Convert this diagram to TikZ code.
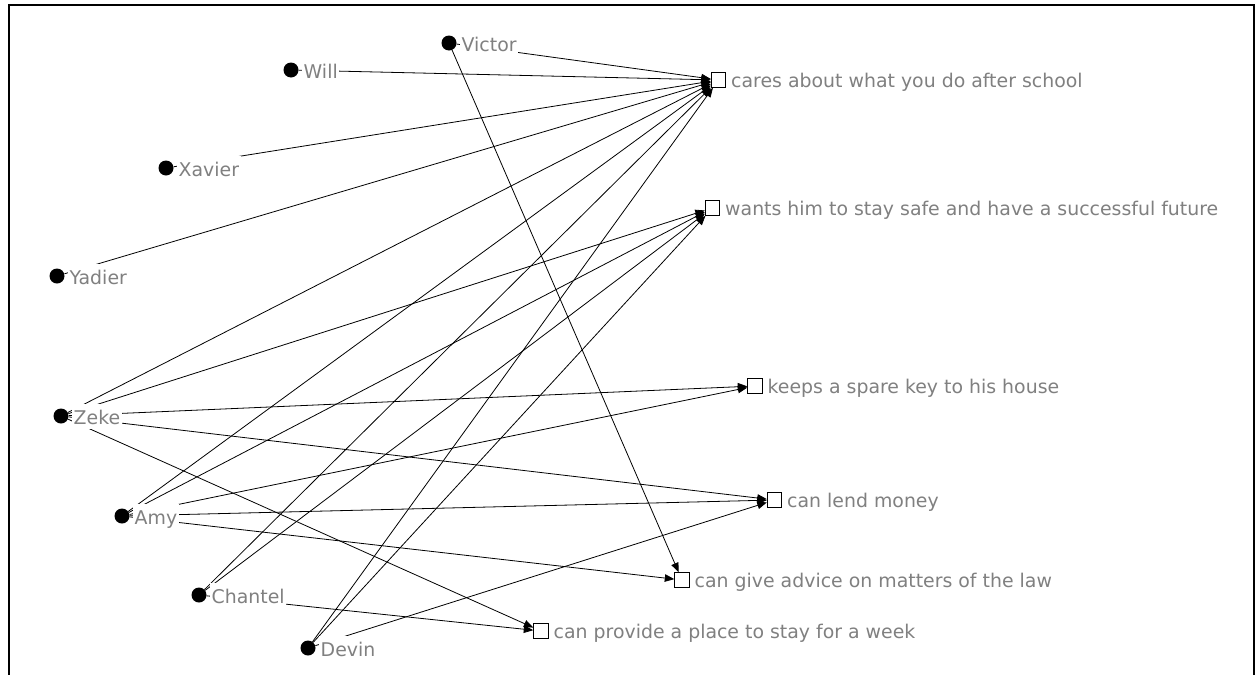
\documentclass[tikz,border=0pt]{standalone}
\usepackage{fontspec}
\setmainfont{DejaVu Sans}
\usetikzlibrary{arrows.meta,calc}
\definecolor{labelgray}{RGB}{128,128,128}
\begin{document}
\begin{tikzpicture}[x=1pt,y=-1pt,
  actor/.style={circle,fill=black,inner sep=0pt,minimum size=15pt},
  tiebox/.style={draw=black,fill=white,inner sep=0pt,minimum size=14.5pt,line width=0.9pt},
  namelabel/.style={anchor=base west,fill=white,inner sep=1.5pt,text=labelgray,
    font=\fontsize{18.9}{21}\selectfont,text height=19pt,text depth=3pt},
  link/.style={draw=black,line width=0.8pt,-{Triangle[length=9.5pt,width=7.5pt]}},
]
\useasboundingbox (0,0) rectangle (1259,675);
% frame
\draw[line width=2pt] (9,690) -- (9,5) -- (1254,5) -- (1254,690);

% actors
\node[actor] (victor)  at (449,43)  {};
\node[actor] (will)    at (291,70)  {};
\node[actor] (xavier)  at (166,168) {};
\node[actor] (yadier)  at (57,276)  {};
\node[actor] (zeke)    at (61,416)  {};
\node[actor] (amy)     at (122,516) {};
\node[actor] (chantel) at (199,595) {};
\node[actor] (devin)   at (308,648) {};

% kinds of support
\node[tiebox] (cares)  at (718.5,80)  {};
\node[tiebox] (wants)  at (712.5,208) {};
\node[tiebox] (keeps)  at (755,386)   {};
\node[tiebox] (lend)   at (774.5,500) {};
\node[tiebox] (advice) at (682,580)   {};
\node[tiebox] (place)  at (541,631)   {};

% ties
\draw[link] (victor) -- (cares);
\draw[link] (victor) -- (advice);
\draw[link] (will) -- (cares);
\draw[link] (xavier) -- (cares);
\draw[link] (yadier) -- (cares);
\draw[link] (zeke) -- (cares);
\draw[link] (zeke) -- (wants);
\draw[link] (zeke) -- (keeps);
\draw[link] (zeke) -- (lend);
\draw[link] (zeke) -- (place);
\draw[link] (amy) -- (cares);
\draw[link] (amy) -- (wants);
\draw[link] (amy) -- (keeps);
\draw[link] (amy) -- (lend);
\draw[link] (amy) -- (advice);
\draw[link] (chantel) -- (cares);
\draw[link] (chantel) -- (wants);
\draw[link] (chantel) -- (place);
\draw[link] (devin) -- (cares);
\draw[link] (devin) -- (wants);
\draw[link] (devin) -- (lend);

% labels (white boxes cut the ties where they leave a name)
\node[namelabel] (victorL)  at ($(victor)+(11,8)$)  {Victor};
\node[namelabel] (willL)    at ($(will)+(11,8)$)    {Will};
\node[namelabel] (xavierL)  at ($(xavier)+(11,8)$)  {Xavier};
\node[namelabel] (yadierL)  at ($(yadier)+(11,8)$)  {Yadier};
\node[namelabel] (zekeL)    at ($(zeke)+(11,8)$)    {Zeke};
\node[namelabel] (amyL)     at ($(amy)+(11,8)$)     {Amy};
\node[namelabel] (chantelL) at ($(chantel)+(11,8)$) {Chantel};
\node[namelabel] (devinL)   at ($(devin)+(11,8)$)   {Devin};

\node[namelabel] (caresL)  at ($(cares)+(11,7)$)  {cares about what you do after school};
\node[namelabel] (wantsL)  at ($(wants)+(11,7)$)  {wants him to stay safe and have a successful future};
\node[namelabel] (keepsL)  at ($(keeps)+(11,7)$)  {keeps a spare key to his house};
\node[namelabel] (lendL)   at ($(lend)+(11,7)$)   {can lend money};
\node[namelabel] (adviceL) at ($(advice)+(11,7)$) {can give advice on matters of the law};
\node[namelabel] (placeL)  at ($(place)+(11,7)$)  {can provide a place to stay for a week};
\end{tikzpicture}
\end{document}
